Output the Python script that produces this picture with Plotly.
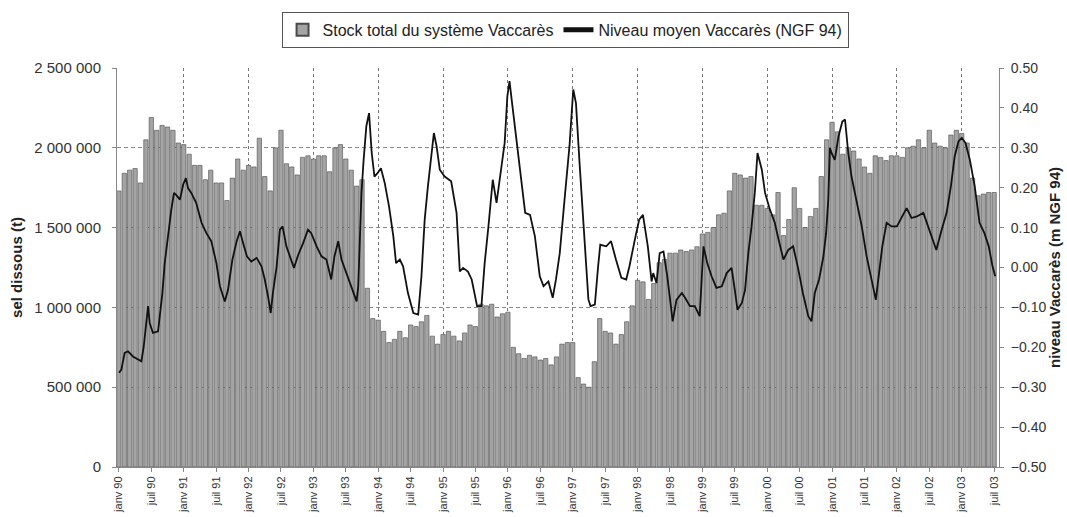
import plotly.graph_objects as go

# ---- data -------------------------------------------------------------
# monthly index (0 = janv 1990) and salt stock (tonnes)
month_index = list(range(163))
stock_t = [
    1730000, 1840000, 1860000, 1870000, 1780000, 2050000, 2190000, 2110000, 2140000, 2130000, 2110000, 2030000,
    2020000, 1960000, 1890000, 1890000, 1800000, 1860000, 1780000, 1780000, 1670000, 1810000, 1930000, 1860000,
    1890000, 1880000, 2060000, 1820000, 1730000, 2000000, 2110000, 1900000, 1880000, 1830000, 1940000, 1950000,
    1930000, 1950000, 1950000, 1850000, 2000000, 2020000, 1930000, 1860000, 1760000, 1800000, 1120000, 930000,
    920000, 850000, 780000, 800000, 850000, 810000, 890000, 880000, 910000, 950000, 820000, 770000,
    830000, 850000, 820000, 790000, 840000, 890000, 880000, 1020000, 1010000, 1020000, 940000, 960000,
    970000, 750000, 710000, 680000, 700000, 690000, 670000, 680000, 640000, 690000, 770000, 780000,
    780000, 560000, 520000, 500000, 660000, 930000, 850000, 840000, 770000, 830000, 910000, 1010000,
    1170000, 1160000, 1050000, 1150000, 1280000, 1300000, 1340000, 1340000, 1360000, 1350000, 1360000, 1380000,
    1460000, 1470000, 1500000, 1580000, 1590000, 1730000, 1840000, 1830000, 1810000, 1820000, 1640000, 1640000,
    1620000, 1580000, 1720000, 1450000, 1550000, 1750000, 1620000, 1500000, 1570000, 1620000, 1820000, 2050000,
    2160000, 2100000, 1960000, 2000000, 1980000, 1930000, 1880000, 1840000, 1950000, 1940000, 1920000, 1950000,
    1950000, 1940000, 2000000, 2010000, 2050000, 2000000, 2110000, 2030000, 2010000, 2000000, 2080000, 2110000,
    2090000, 2030000, 1810000, 1700000, 1710000, 1720000, 1720000,
]

# water level: time in months since janv 1990, level in m NGF 94
level_t = [
    0.03, 0.46, 1.07, 1.69, 2.6, 3.5, 4.16, 4.6, 5.1, 5.4, 5.7, 6.3, 7.25, 7.55, 8.05, 8.48, 9.1, 9.7,
    10.2, 10.6, 11.3, 11.9, 12.4, 12.8, 13.4, 14.3, 15.3, 16.2, 17.1, 18.05, 18.7, 19.6, 20.2, 21.0,
    21.8, 22.4, 23.0, 23.7, 24.5, 25.5, 26.4, 27.0, 27.6, 28.1, 28.5, 29.2, 29.8, 30.3, 31.0, 31.6,
    32.4, 33.2, 34.1, 35.0, 35.6, 36.6, 37.5, 38.4, 39.3, 39.9, 40.6, 41.2, 42.1, 43.0, 44.0, 44.3,
    44.6, 44.9, 45.3, 45.8, 46.3, 46.8, 47.3, 47.9, 48.5, 49.2, 50.0, 50.8, 51.3, 52.0, 52.6, 53.5,
    54.5, 55.4, 56.0, 56.6, 57.2, 57.8, 58.3, 58.8, 59.4, 60.3, 61.5, 62.5, 63.1, 63.7, 64.6, 65.3,
    65.9, 66.3, 67.1, 67.7, 68.4, 69.2, 69.9, 70.8, 71.4, 71.9, 72.3, 72.7, 73.3, 74.2, 75.2, 76.1,
    77.0, 77.9, 78.6, 79.5, 80.3, 80.9, 81.6, 82.6, 83.4, 84.1, 84.6, 85.3, 86.3, 86.9, 87.3, 88.1,
    88.7, 89.1, 90.2, 91.1, 92.0, 93.0, 93.9, 94.5, 95.5, 96.3, 97.0, 97.9, 98.6, 98.9, 99.5, 100.1,
    100.8, 101.5, 102.1, 102.5, 103.2, 104.2, 104.8, 105.7, 106.6, 107.5, 107.9, 108.2, 108.9, 109.7,
    110.6, 111.6, 112.5, 113.4, 114.0, 114.5, 115.3, 115.9, 116.5, 117.1, 117.7, 118.2, 119.0, 119.6,
    120.5, 121.4, 122.1, 123.0, 123.9, 124.8, 125.7, 126.6, 127.6, 128.2, 128.8, 129.6, 130.4, 130.9,
    131.3, 131.6, 131.9, 132.5, 133.2, 133.9, 134.4, 135.0, 135.6, 136.6, 137.5, 138.4, 139.3, 140.1,
    140.7, 141.3, 142.1, 143.0, 144.0, 144.9, 145.8, 146.7, 147.7, 148.9, 149.8, 150.7, 151.3, 152.3,
    153.2, 154.0, 154.7, 155.4, 156.0, 156.7, 157.5, 158.4, 159.3, 160.2, 161.0, 161.7, 162.2,
]
level_m = [
    -0.264, -0.256, -0.214, -0.21, -0.223, -0.231, -0.235, -0.198, -0.122, -0.097, -0.139, -0.164, -0.16, -0.122, -0.064, 0.011, 0.086, 0.145,
    0.187, 0.182, 0.17, 0.208, 0.224, 0.199, 0.187, 0.162, 0.112, 0.086, 0.066, 0.011, -0.047, -0.085, -0.056, 0.019,
    0.066, 0.091, 0.061, 0.028, 0.015, 0.024, 0.003, -0.03, -0.072, -0.114, -0.064, 0.003, 0.095, 0.103, 0.053, 0.03,
    -0.001, 0.032, 0.061, 0.095, 0.086, 0.053, 0.028, 0.02, -0.03, 0.028, 0.066, 0.02, -0.014, -0.047, -0.085, -0.047,
    0.07, 0.187, 0.27, 0.354, 0.387, 0.287, 0.228, 0.237, 0.249, 0.212, 0.153, 0.078, 0.011, 0.02, 0.003, -0.064,
    -0.114, -0.118, -0.022, 0.12, 0.204, 0.287, 0.337, 0.304, 0.245, 0.228, 0.216, 0.137, -0.01, -0.001, -0.01, -0.03,
    -0.07, -0.097, -0.097, 0.011, 0.103, 0.22, 0.162, 0.254, 0.312, 0.429, 0.467, 0.421, 0.354, 0.245, 0.137, 0.132,
    0.078, -0.022, -0.047, -0.035, -0.076, -0.03, 0.036, 0.187, 0.304, 0.446, 0.412, 0.254, 0.053, -0.08, -0.097, -0.093,
    0.003, 0.057, 0.053, 0.066, 0.02, -0.026, -0.03, 0.003, 0.07, 0.12, 0.132, 0.053, -0.035, -0.014, -0.039, 0.036,
    0.04, -0.022, -0.089, -0.135, -0.081, -0.064, -0.076, -0.097, -0.097, -0.122, -0.022, 0.053, 0.011, -0.022,
    -0.051, -0.047, -0.014, -0.001, -0.056, -0.106, -0.089, -0.056, 0.036, 0.103, 0.187, 0.287, 0.245, 0.187,
    0.145, 0.112, 0.07, 0.02, 0.044, 0.053, -0.001, -0.064, -0.122, -0.135, -0.064, -0.03, 0.028, 0.086,
    0.17, 0.3, 0.287, 0.27, 0.329, 0.366, 0.371, 0.287, 0.228, 0.162, 0.103, 0.028, -0.03, -0.081,
    -0.014, 0.053, 0.112, 0.103, 0.103, 0.128, 0.149, 0.124, 0.128, 0.137, 0.103, 0.066, 0.044, 0.095,
    0.137, 0.204, 0.279, 0.316, 0.325, 0.312, 0.27, 0.204, 0.112, 0.086, 0.053, 0.003, -0.022,
]

tick_labels = [
    "janv 90", "juil 90", "janv 91", "juil 91", "janv 92", "juil 92", "janv 93", "juil 93",
    "janv 94", "juil 94", "janv 95", "juil 95", "janv 96", "juil 96", "janv 97", "juil 97",
    "janv 98", "juil 98", "janv 99", "juil 99", "janv 00", "juil 00", "janv 01", "juil 01",
    "janv 02", "juil 02", "janv 03", "juil 03",
]
tick_positions = [6 * k for k in range(len(tick_labels))]
year_positions = [p for p in tick_positions if p % 12 == 0 and p > 0]

FONT = "Liberation Sans, Arial, sans-serif"

fig = go.Figure()
fig.add_trace(go.Bar(
    x=month_index, y=stock_t, name="Stock total du système Vaccarès",
    width=0.8, marker=dict(color="#a4a4a4", line=dict(color="#4a4a4a", width=0.6)),
    xaxis="x", yaxis="y",
))
fig.add_trace(go.Scatter(
    x=level_t, y=level_m, name="Niveau moyen Vaccarès (NGF 94)", mode="lines",
    line=dict(color="#111111", width=1.8), xaxis="x2", yaxis="y2",
))

xr = [-0.35, 162.9]
fig.update_layout(
    width=1067, height=517,
    margin=dict(l=117, r=68, t=68, b=50, autoexpand=False),
    paper_bgcolor="white", plot_bgcolor="white",
    separators=". ",
    font=dict(family=FONT, color="#222222"),
    showlegend=True,
    legend=dict(
        orientation="h", x=0.508, xanchor="center", y=1.141, yanchor="top",
        bordercolor="#555555", borderwidth=1, bgcolor="white",
        font=dict(size=16, family=FONT, color="#222222"),
        itemsizing="constant",
    ),
    xaxis=dict(
        range=xr, tickmode="array", tickvals=year_positions, showticklabels=False,
        ticks="", showgrid=True, gridcolor="#777777", griddash="dot", gridwidth=1,
        showline=True, linecolor="#888888", linewidth=1, zeroline=False,
        automargin=False,
    ),
    xaxis2=dict(
        range=xr, overlaying="x", side="bottom", anchor="y2",
        tickmode="array", tickvals=tick_positions, ticktext=tick_labels,
        tickangle=-90, tickfont=dict(size=11, family=FONT, color="#333333"),
        ticks="outside", ticklen=4, tickcolor="#888888",
        showgrid=False, showline=False, zeroline=False, automargin=False,
    ),
    yaxis=dict(
        range=[0, 2500000], dtick=500000, tickformat=",d",
        tickfont=dict(size=15, family=FONT, color="#333333"),
        ticks="outside", ticklen=4, tickcolor="#888888", ticklabelstandoff=8,
        showgrid=True, gridcolor="#888888", griddash="4px,3px", gridwidth=1,
        showline=True, linecolor="#888888", linewidth=1, zeroline=False,
        automargin=False,
        title=dict(text="sel dissous (t)", standoff=8,
                   font=dict(size=15, family=FONT, color="#222222", weight="bold")),
    ),
    yaxis2=dict(
        range=[-0.5, 0.5], dtick=0.1, tickformat=".2f", overlaying="y", side="right",
        anchor="x2",
        tickfont=dict(size=14, family=FONT, color="#333333"),
        ticks="outside", ticklen=4, tickcolor="#888888", ticklabelstandoff=4,
        showgrid=False, showline=True, linecolor="#888888", linewidth=1, zeroline=False,
        automargin=False,
        title=dict(text="niveau Vaccarès (m NGF 94)", standoff=4,
                   font=dict(size=15, family=FONT, color="#222222", weight="bold")),
    ),
)

fig.write_html(
    "out.html",
    config={"displayModeBar": False},
    post_script="document.body.style.margin='0';document.body.style.overflow='hidden';",
)
